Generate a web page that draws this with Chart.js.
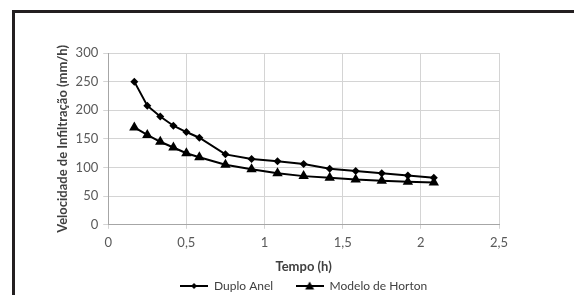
<!DOCTYPE html>
<html>
<head>
<meta charset="utf-8">
<script src="https://cdn.jsdelivr.net/npm/chart.js"></script>
<style>
  html, body { margin: 0; padding: 0; background: #fff; overflow: hidden; }
  #wrap { position: relative; width: 574px; height: 295px; }
  #frame { position: absolute; left: 12px; top: 10px; width: 640px; height: 400px; border: 3px solid #231f20; box-sizing: border-box; }
  #c { position: absolute; left: 0; top: 0; }
</style>
</head>
<body>
<div id="wrap">
  <div id="frame"></div>
  <canvas id="c" width="574" height="295"></canvas>
</div>
<script>
// tempo (h) e velocidade de infiltração (mm/h)
const timeH = [0.167, 0.25, 0.333, 0.417, 0.5, 0.583, 0.75, 0.917, 1.083, 1.25, 1.417, 1.583, 1.75, 1.917, 2.083];
const duploAnel = [250, 208, 189, 173, 162, 152, 123, 115, 111, 106, 98, 94, 90, 86, 82];
const horton = [170, 157, 145, 135, 125, 118, 105, 97, 90, 85, 82, 79, 77, 75, 74];
const seriesNames = ['Duplo Anel', 'Modelo de Horton'];
const xTitle = 'Tempo (h)';
const yTitle = 'Velocidade de Infiltração (mm/h)';

const FONT = 'Lato';

// small icons for the legend: line with marker in the middle
function legendIcon(style) {
  const cv = document.createElement('canvas');
  cv.width = 28; cv.height = 12;
  const g = cv.getContext('2d');
  g.strokeStyle = '#000'; g.fillStyle = '#000'; g.lineWidth = 2;
  g.beginPath(); g.moveTo(0, 6); g.lineTo(28, 6); g.stroke();
  g.beginPath();
  if (style === 'rectRot') {
    g.moveTo(14, 3); g.lineTo(17, 6); g.lineTo(14, 9); g.lineTo(11, 6);
  } else {
    g.moveTo(14, 1.5); g.lineTo(18.5, 9.5); g.lineTo(9.5, 9.5);
  }
  g.closePath(); g.fill();
  return cv;
}

const toXY = arr => arr.map((v, i) => ({ x: timeH[i], y: v }));

new Chart(document.getElementById('c'), {
  type: 'line',
  data: {
    datasets: [
      {
        label: seriesNames[0],
        data: toXY(duploAnel),
        borderColor: '#000', backgroundColor: '#000',
        borderWidth: 2, tension: 0,
        pointStyle: 'rectRot', pointRadius: 4, pointBorderWidth: 0
      },
      {
        label: seriesNames[1],
        data: toXY(horton),
        borderColor: '#000', backgroundColor: '#000',
        borderWidth: 2, tension: 0,
        pointStyle: 'triangle', pointRadius: 6, pointBorderWidth: 0
      }
    ]
  },
  options: {
    responsive: false,
    animation: false,
    layout: { padding: { left: 51, right: 75, top: 53, bottom: -7 } },
    scales: {
      x: {
        type: 'linear', min: 0, max: 2.5,
        grid: { color: '#d4d4d4', tickLength: 4 },
        border: { color: '#a6a6a6' },
        ticks: {
          stepSize: 0.5, padding: 6.5, color: '#595959',
          font: { family: FONT, size: 13 },
          callback: v => String(v).replace('.', ',')
        },
        title: {
          display: true, text: xTitle, color: '#404040',
          font: { family: FONT, size: 13, weight: 'bold' },
          padding: { top: 1.5, bottom: 1.5 }
        }
      },
      y: {
        min: 0, max: 300,
        grid: { color: '#d4d4d4', tickLength: 5 },
        border: { color: '#a6a6a6' },
        ticks: {
          stepSize: 50, padding: 5, color: '#595959',
          font: { family: FONT, size: 13 }
        },
        title: {
          display: true, text: yTitle, color: '#404040',
          font: { family: FONT, size: 13, weight: 'bold' },
          padding: { top: 4, bottom: 0 }
        }
      }
    },
    plugins: {
      tooltip: { enabled: false },
      legend: {
        position: 'bottom',
        fullSize: false,
        labels: {
          usePointStyle: true,
          pointStyleWidth: 28,
          padding: 4,
          color: '#404040',
          font: { family: FONT, size: 12 },
          generateLabels: chart => chart.data.datasets.map((ds, i) => ({
            text: i === 0 ? ds.label + '      ' : ds.label,
            pointStyle: legendIcon(ds.pointStyle),
            datasetIndex: i,
            fontColor: '#404040',
            lineWidth: 0,
            strokeStyle: 'transparent',
            fillStyle: 'transparent'
          }))
        }
      }
    }
  }
});
</script>
</body>
</html>
